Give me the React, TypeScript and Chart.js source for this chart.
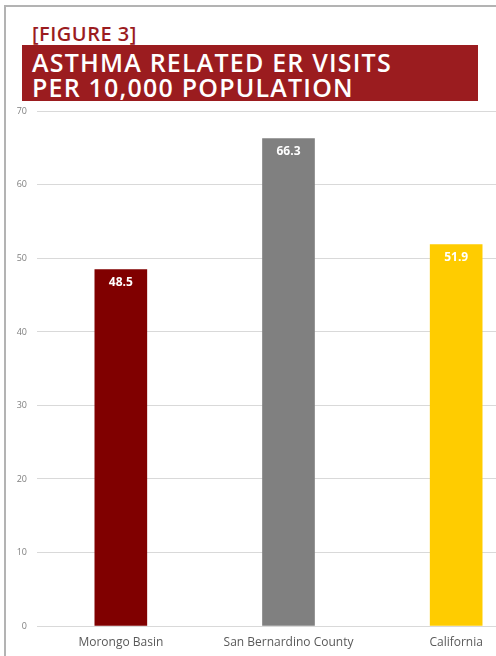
import React, { useEffect, useRef } from "react";
import { Chart, registerables } from "chart.js";

Chart.register(...registerables);

const categories = ["Morongo Basin", "San Bernardino County", "California"];
const values = [48.5, 66.3, 51.9];
const barColors = ["#800000", "#808080", "#FFCC00"];
const yTicks = [0, 10, 20, 30, 40, 50, 60, 70];

const valueLabelPlugin = {
  id: "valueLabels",
  afterDatasetsDraw(chart: any) {
    const ctx = chart.ctx;
    const meta = chart.getDatasetMeta(0);
    ctx.save();
    ctx.fillStyle = "#ffffff";
    ctx.font = "bold 12px 'Open Sans', sans-serif";
    ctx.textAlign = "center";
    ctx.textBaseline = "middle";
    meta.data.forEach((bar: any, i: number) => {
      ctx.fillText(values[i].toFixed(1), bar.x, bar.y + 13);
    });
    ctx.restore();
  },
};

export default function App() {
  const ref = useRef<HTMLCanvasElement>(null);
  useEffect(() => {
    if (!ref.current) return;
    const chart = new Chart(ref.current, {
      type: "bar",
      data: {
        labels: categories,
        datasets: [
          {
            data: values,
            backgroundColor: barColors,
            barThickness: 52,
          },
        ],
      },
      options: {
        animation: false,
        responsive: false,
        devicePixelRatio: 1,
        layout: { padding: 0 },
        plugins: { legend: { display: false }, tooltip: { enabled: false } },
        scales: {
          x: {
            grid: { display: false, drawTicks: false },
            border: { display: false },
            ticks: {
              color: "#595959",
              font: { family: "'Open Sans', sans-serif", size: 12 },
              padding: 9,
              maxRotation: 0,
              autoSkip: false,
            },
            afterFit(scale: any) {
              scale.height = 30;
            },
          },
          y: {
            min: 0,
            max: 70,
            afterBuildTicks(scale: any) {
              scale.ticks = yTicks.map((v) => ({ value: v }));
            },
            grid: { color: "#d9d9d9", drawTicks: false, lineWidth: 1 },
            border: { display: false },
            ticks: {
              color: "#7f7f7f",
              font: { family: "'Open Sans', sans-serif", size: 9 },
              padding: 10,
            },
            afterFit(scale: any) {
              scale.width = 37;
            },
          },
        },
      },
      plugins: [valueLabelPlugin],
    });
    return () => chart.destroy();
  }, []);

  return (
    <div
      style={{
        position: "fixed",
        left: 0,
        top: 0,
        width: 496,
        height: 656,
        overflow: "hidden",
        background: "#ffffff",
      }}
    >
      <div
        style={{
          position: "absolute",
          left: 4,
          top: 5,
          width: 600,
          height: 700,
          borderTop: "2px solid #b3b3b3",
          borderLeft: "2px solid #b3b3b3",
        }}
      />
      <div
        style={{
          position: "absolute",
          left: 32,
          top: 22,
          fontFamily: "'Open Sans', sans-serif",
          fontWeight: 600,
          fontSize: 20,
          lineHeight: "24px",
          letterSpacing: "0.5px",
          color: "#9b1c1f",
          whiteSpace: "nowrap",
        }}
      >
        [FIGURE 3]
      </div>
      <div
        style={{
          position: "absolute",
          left: 22,
          top: 45,
          width: 456,
          height: 56,
          background: "#9b1c1f",
        }}
      >
        <div
          style={{
            position: "absolute",
            left: 10,
            top: 5,
            fontFamily: "'Open Sans', sans-serif",
            fontWeight: 600,
            fontSize: 25,
            lineHeight: "25px",
            letterSpacing: "1.2px",
            color: "#ffffff",
            whiteSpace: "nowrap",
          }}
        >
          ASTHMA RELATED ER VISITS
          <br />
          PER 10,000 POPULATION
        </div>
      </div>
      <canvas
        ref={ref}
        width={540}
        height={560}
        style={{ position: "absolute", left: 0, top: 96, width: 540, height: 560 }}
      />
    </div>
  );
}
